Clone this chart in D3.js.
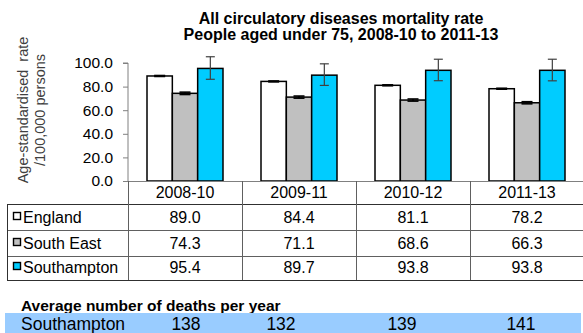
<!DOCTYPE html>
<html>
<head>
<meta charset="utf-8">
<script src="https://cdn.jsdelivr.net/npm/d3@7"></script>
<style>
  html, body { margin: 0; padding: 0; background: #fff; }
  svg { display: block; font-family: "Liberation Sans", Arial, sans-serif; }
</style>
</head>
<body>
<svg id="chart" width="583" height="333"></svg>
<script>
// Periods (3-year pooled) shown on the x axis
const periods = ["2008-10", "2009-11", "2010-12", "2011-13"];
const areas = ["England", "South East", "Southampton"];

// Directly age-standardised rate per 100,000, under-75s
const england     = [89.0, 84.4, 81.1, 78.2];
const southEast   = [74.3, 71.1, 68.6, 66.3];
const southampton = [95.4, 89.7, 93.8, 93.8];

// 95% confidence limits
const englandLo     = [88.6, 84.0, 80.7, 77.8];
const englandHi     = [89.4, 84.8, 81.5, 78.6];
const southEastLo   = [73.3, 70.2, 67.7, 65.4];
const southEastHi   = [75.3, 72.0, 69.5, 67.2];
const southamptonLo = [86.2, 81.0, 85.0, 84.9];
const southamptonHi = [105.3, 99.3, 103.2, 103.2];

// Average number of deaths per year, Southampton
const deathsPerYear = [138, 132, 139, 141];

const yTicks = [0, 20, 40, 60, 80, 100];

const colours = { "England": "#ffffff", "South East": "#c0c0c0", "Southampton": "#00ccff" };

const series = [
  { area: "England", values: england, lo: englandLo, hi: englandHi },
  { area: "South East", values: southEast, lo: southEastLo, hi: southEastHi },
  { area: "Southampton", values: southampton, lo: southamptonLo, hi: southamptonHi }
];

const svg = d3.select("#chart");

const plotLeft = 128, plotRight = 584, plotTop = 63, plotBottom = 181;
const tableLeft = 7;
const rowH = [204, 230, 256, 280]; // bottoms of header + three data rows

const x = d3.scaleBand().domain(periods).range([plotLeft, plotRight]).paddingInner(0).paddingOuter(0);
const x1 = d3.scaleBand().domain(areas).range([19, x.bandwidth() - 19]).padding(0);
const y = d3.scaleLinear().domain([0, 100]).range([plotBottom, plotTop]);

// Title
const title = svg.append("text")
  .attr("x", 341).attr("text-anchor", "middle")
  .attr("font-weight", "bold").attr("font-size", 16).attr("fill", "#000");
title.append("tspan").attr("x", 341).attr("y", 24).text("All circulatory diseases mortality rate");
title.append("tspan").attr("x", 341).attr("y", 39.5).text("People aged under 75, 2008-10 to 2011-13");

// Y axis title (two lines, rotated)
const yTitle = svg.append("text")
  .attr("transform", "translate(0,110) rotate(-90)")
  .attr("text-anchor", "middle").attr("font-size", 14.5).attr("fill", "#404040");
yTitle.append("tspan").attr("x", 0).attr("y", 28).attr("xml:space", "preserve").text("Age-standardised  rate");
yTitle.append("tspan").attr("x", 0).attr("y", 45).text("/100,000 persons");

// Y axis
const yAxis = d3.axisLeft(y).tickValues(yTicks).tickFormat(d3.format(".1f")).tickSize(5).tickPadding(10);
const gy = svg.append("g").attr("transform", `translate(${plotLeft},0)`).call(yAxis);
gy.select(".domain").attr("stroke", "#808080").attr("d", `M-5,${plotTop}H0V${plotBottom}`);
gy.selectAll(".tick line").attr("stroke", "#808080");
gy.selectAll(".tick text").attr("font-size", 15.5).attr("fill", "#000")
  .attr("font-family", "'Liberation Sans', Arial, sans-serif");

// Bars
const groups = svg.append("g").selectAll("g")
  .data(periods).join("g")
  .attr("transform", d => `translate(${x(d)},0)`);

groups.selectAll("rect")
  .data((p, i) => series.map(s => ({ area: s.area, v: s.values[i] })))
  .join("rect")
  .attr("x", d => x1(d.area))
  .attr("width", x1.bandwidth())
  .attr("y", d => y(d.v))
  .attr("height", d => y(0) - y(d.v))
  .attr("fill", d => colours[d.area])
  .attr("stroke", "#000").attr("stroke-width", 1.5);

// Error bars
const capW = 9;
groups.selectAll("g.err")
  .data((p, i) => series.map(s => ({ area: s.area, lo: s.lo[i], hi: s.hi[i] })))
  .join("g").attr("class", "err")
  .each(function (d) {
    const g = d3.select(this);
    const cx = x1(d.area) + x1.bandwidth() / 2;
    const big = d.area === "Southampton";
    const col = big ? "#404040" : "#000";
    const w = big ? capW : 11;
    const sw = big ? 1.2 : 1.6;
    g.append("line").attr("x1", cx).attr("x2", cx).attr("y1", y(d.hi)).attr("y2", y(d.lo))
      .attr("stroke", col).attr("stroke-width", sw);
    [d.lo, d.hi].forEach(v => {
      g.append("line").attr("x1", cx - w / 2).attr("x2", cx + w / 2).attr("y1", y(v)).attr("y2", y(v))
        .attr("stroke", col).attr("stroke-width", sw);
    });
  });

// Data table under the chart
const grid = svg.append("g").attr("stroke-width", 1).attr("shape-rendering", "crispEdges");
// axis line / top of header row
grid.append("line").attr("x1", plotLeft).attr("x2", plotRight).attr("y1", plotBottom + 0.5).attr("y2", plotBottom + 0.5).attr("stroke", "#808080");
// row lines
rowH.forEach((yy, i) => {
  grid.append("line").attr("x1", tableLeft).attr("x2", plotRight)
    .attr("y1", yy + 0.5).attr("y2", yy + 0.5)
    .attr("stroke", i === 0 || i === rowH.length - 1 ? "#303030" : "#606060");
});
// column lines
periods.forEach(p => {
  grid.append("line").attr("x1", x(p) + 0.5).attr("x2", x(p) + 0.5)
    .attr("y1", plotBottom).attr("y2", rowH[rowH.length - 1])
    .attr("stroke", "#606060");
});
grid.append("line").attr("x1", tableLeft + 0.5).attr("x2", tableLeft + 0.5)
  .attr("y1", rowH[0]).attr("y2", rowH[rowH.length - 1]).attr("stroke", "#303030");

// header labels
svg.append("g").selectAll("text").data(periods).join("text")
  .attr("x", d => x(d) + x.bandwidth() / 2).attr("y", rowH[0] - 6.5)
  .attr("text-anchor", "middle").attr("font-size", 16).attr("fill", "#000")
  .text(d => d);

// data rows
series.forEach((s, r) => {
  const base = rowH[r + 1] - 7;
  svg.append("rect").attr("x", 13.5).attr("y", base - 10.5).attr("width", 7).attr("height", 7)
    .attr("fill", colours[s.area]).attr("stroke", "#000").attr("stroke-width", 1.4);
  svg.append("text").attr("x", 23).attr("y", base).attr("font-size", 16).attr("fill", "#000").text(s.area);
  svg.append("g").selectAll("text").data(s.values).join("text")
    .attr("x", (d, i) => x(periods[i]) + x.bandwidth() / 2).attr("y", base)
    .attr("text-anchor", "middle").attr("font-size", 16).attr("fill", "#000")
    .text(d => d.toFixed(1));
});

// Deaths per year strip
svg.append("text").attr("x", 21).attr("y", 311).attr("font-size", 15.5).attr("font-weight", "bold")
  .attr("fill", "#000").text("Average number of deaths per year");
svg.append("rect").attr("x", 5).attr("y", 313).attr("width", 576).attr("height", 20).attr("fill", "#99ccff");
svg.append("text").attr("x", 21).attr("y", 330).attr("font-size", 17.5).attr("fill", "#000").text("Southampton");
const deathsX = [186, 281, 402, 521];
svg.append("g").selectAll("text").data(deathsPerYear).join("text")
  .attr("x", (d, i) => deathsX[i]).attr("y", 330)
  .attr("text-anchor", "middle").attr("font-size", 17.5).attr("fill", "#000")
  .text(d => d);
</script>
</body>
</html>
